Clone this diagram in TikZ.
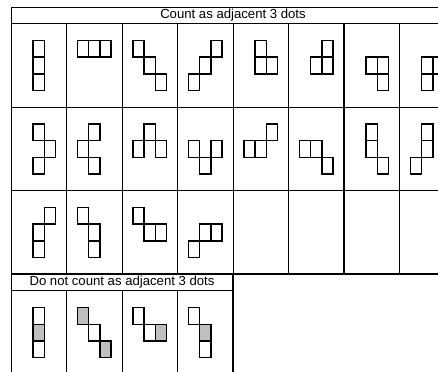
\documentclass[tikz,border=0pt]{standalone}
\usepackage{fontspec}
\setmainfont{Liberation Sans}
\usetikzlibrary{positioning}

\begin{document}
\begin{tikzpicture}
    [
        x=11.1bp, y=-16.7bp,
        gridline/.style={draw, line width=0.9bp},
        heavyline/.style={draw, line width=1.8bp},
        dotbox/.style={draw, line width=1.5bp, line join=miter},
        greydot/.style={dotbox, fill=black!25},
        headtext/.style={inner sep=0pt, font=\fontsize{13.2}{15}\selectfont}
    ]
        \useasboundingbox (-0.991,-0.419) rectangle (38.47,21.80);
        \clip (-0.991,-0.419) rectangle (38.47,21.80);
        % =========================================================================
        % TABLE GRID
        % =========================================================================
        % --- Upper table ---
        \draw [gridline] (0,0) -- (40,0);
        \draw [gridline] (0,1) -- (40,1);
        \draw [gridline] (0,0) -- (0,22);
        \foreach \y in {6,11}
            \draw [gridline] (0,\y) -- (40,\y);
        \draw [heavyline] (0,16) -- (40,16);
        \foreach \x in {5,10,15,20,25}
            \draw [gridline] (\x,1) -- (\x,16);
        \foreach \x in {30,35}
            \draw [heavyline] (\x,1) -- (\x,16);
        % --- Lower table ---
        \draw [gridline] (0,17) -- (20,17);
        \foreach \x in {5,10,15}
            \draw [gridline] (\x,17) -- (\x,22);
        \draw [heavyline] (20,16) -- (20,22);

        % =========================================================================
        % HEADERS
        % =========================================================================
        \node [headtext] (counthead) at (20,0.5) {Count as adjacent 3 dots};
        \node [headtext] (nocounthead) at (10,16.5) {Do not count as adjacent 3 dots};

        % =========================================================================
        % DOT PATTERNS
        % =========================================================================
        % cell column / row top / squares (i/j inside the cell)
        \foreach \c/\r/\sq in {
            % --- Row 1 ---
            0/1/{2/1,2/2,2/3}, 1/1/{1/1,2/1,3/1}, 2/1/{1/1,2/2,3/3}, 3/1/{3/1,2/2,1/3},
            4/1/{2/1,2/2,3/2}, 5/1/{3/1,3/2,2/2}, 6/1/{2/2,3/2,3/3}, 7/1/{2/2,3/2,2/3},
            % --- Row 2 ---
            0/6/{2/1,3/2,2/3}, 1/6/{2/1,1/2,2/3}, 2/6/{2/1,1/2,3/2}, 3/6/{1/2,2/3,3/2},
            4/6/{1/2,2/2,3/1}, 5/6/{1/2,2/2,3/3}, 6/6/{2/1,2/2,3/3}, 7/6/{2/1,2/2,1/3},
            % --- Row 3 ---
            0/11/{3/1,2/2,2/3}, 1/11/{1/1,2/2,2/3}, 2/11/{1/1,2/2,3/2}, 3/11/{2/2,3/2,1/3},
            % --- Row 4 (not counted) ---
            0/17/{2/1,2/3}, 1/17/{2/2}, 2/17/{1/1,2/2}, 3/17/{1/1,2/3}}
            \foreach \i/\j in \sq
                \draw [dotbox] (5*\c+\i,\r+\j) rectangle ++(1,1);
        % --- Grey squares ---
        \foreach \c/\i/\j in {0/2/2, 1/1/1, 1/3/3, 2/3/2, 3/2/2}
            \draw [greydot] (5*\c+\i,17+\j) rectangle ++(1,1);

    \end{tikzpicture}
\end{document}
